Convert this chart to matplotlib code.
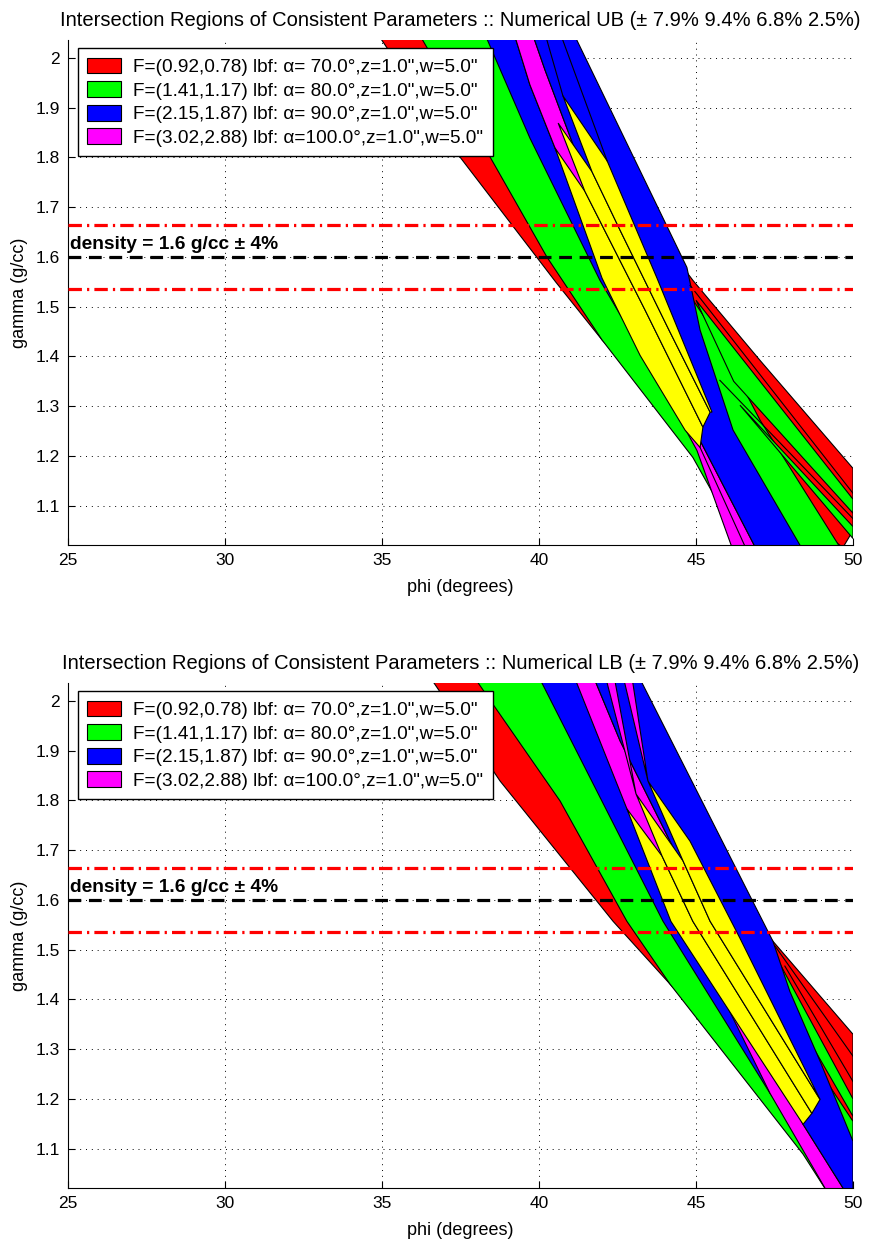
import matplotlib
matplotlib.use('Agg')
import matplotlib.pyplot as plt
from matplotlib.patches import Polygon, Patch

plt.rcParams['font.family'] = ['Liberation Sans', 'DejaVu Sans']

# ---------------- data (phi in degrees, gamma in g/cc) ----------------
phi_ticks = [25, 30, 35, 40, 45, 50]
gamma_ticks = [1.1, 1.2, 1.3, 1.4, 1.5, 1.6, 1.7, 1.8, 1.9, 2.0]
gamma_tick_labels = ['1.1', '1.2', '1.3', '1.4', '1.5', '1.6', '1.7', '1.8', '1.9', '2']
phi_lim = (25, 50)
gamma_lim = (1.021, 2.036)

density = 1.6
density_tol = 0.04

legend_labels = [
    'F=(0.92,0.78) lbf: \u03b1= 70.0\u00b0,z=1.0",w=5.0"',
    'F=(1.41,1.17) lbf: \u03b1= 80.0\u00b0,z=1.0",w=5.0"',
    'F=(2.15,1.87) lbf: \u03b1= 90.0\u00b0,z=1.0",w=5.0"',
    'F=(3.02,2.88) lbf: \u03b1=100.0\u00b0,z=1.0",w=5.0"',
]
band_colors = ['#ff0000', '#00ff00', '#0000ff', '#ff00ff']
overlap_color = '#ffff00'

titles = [
    'Intersection Regions of Consistent Parameters :: Numerical UB (\u00b1 7.9% 9.4% 6.8% 2.5%)',
    'Intersection Regions of Consistent Parameters :: Numerical LB (\u00b1 7.9% 9.4% 6.8% 2.5%)',
]

# ---- upper bound panel: region outlines (phi, gamma) ----
UB_RED = [(34.78, 2.056), (37.48, 1.801), (40.54, 1.549), (42.01, 1.433), (45.13, 1.231),
          (49.68, 1.016), (50.00, 1.050), (50.00, 1.175), (47.04, 1.392), (44.90, 1.553),
          (43.22, 1.694), (40.67, 2.056)]
UB_GREEN = [(36.11, 2.056), (38.44, 1.801), (40.25, 1.600), (42.01, 1.433), (44.90, 1.197),
            (46.56, 1.010), (49.65, 1.010), (47.04, 1.272), (45.54, 1.453), (44.49, 1.553),
            (41.94, 1.815), (40.03, 2.056)]
UB_GREEN_FAN_A = [(45.00, 1.513), (50.00, 1.113), (50.00, 1.085), (46.20, 1.350)]
UB_GREEN_FAN_B = [(46.40, 1.302), (50.00, 1.058), (50.00, 1.034)]
UB_BLUE_A = [(38.22, 2.056), (39.71, 1.839), (41.94, 1.553), (43.76, 1.358), (41.94, 1.614),
             (40.51, 1.819), (39.71, 1.946), (39.17, 2.056)]
UB_MAGENTA = [(39.17, 2.056), (39.71, 1.946), (40.51, 1.819), (41.94, 1.614), (43.76, 1.358),
              (45.03, 1.211), (46.18, 1.010), (46.94, 1.010), (45.13, 1.231), (44.49, 1.312),
              (43.22, 1.533), (41.94, 1.694), (41.15, 1.815), (40.19, 1.976), (39.75, 2.056)]
UB_BLUE_B = [(39.75, 2.056), (40.19, 1.976), (41.15, 1.815), (41.94, 1.694), (43.22, 1.533),
             (44.49, 1.312), (45.13, 1.231), (46.94, 1.010), (48.41, 1.010), (46.18, 1.252),
             (45.13, 1.453), (44.71, 1.579), (41.05, 2.056)]
UB_YELLOW_C = [(40.51, 1.819), (41.46, 1.732), (43.38, 1.493), (45.22, 1.258), (45.13, 1.217),
               (44.65, 1.252), (43.22, 1.402), (42.01, 1.557)]
UB_YELLOW_B = [(40.61, 1.869), (41.69, 1.771), (42.58, 1.654), (44.14, 1.453), (45.45, 1.288),
               (45.22, 1.258), (43.38, 1.493), (41.46, 1.732)]
UB_YELLOW_A = [(40.76, 1.924), (42.17, 1.793), (43.76, 1.557), (45.51, 1.288), (45.45, 1.288),
               (44.14, 1.453), (42.58, 1.654), (41.69, 1.771)]
UB_EDGES = [
    [(40.16, 2.056), (40.76, 1.924)],
    [(40.64, 2.056), (42.17, 1.793)],
    [(44.81, 1.543), (50.00, 1.125)],
    [(45.76, 1.352), (50.00, 1.074)],
    [(45.13, 1.217), (46.62, 1.010)],
]

# ---- lower bound panel ----
LB_RED = [(36.40, 2.060), (38.76, 1.839), (42.36, 1.557), (44.17, 1.431), (47.04, 1.235),
          (49.75, 1.014), (50.00, 1.014), (50.00, 1.330), (47.45, 1.517), (45.13, 1.698),
          (42.26, 2.060)]
LB_GREEN = [(37.80, 2.060), (40.67, 1.799), (42.80, 1.557), (44.17, 1.431), (48.41, 1.089),
            (49.27, 1.004), (50.00, 1.004), (50.00, 1.155), (48.31, 1.316), (47.04, 1.517),
            (45.13, 1.718), (42.58, 2.060)]
LB_GREEN_FAN_A = [(47.60, 1.480), (50.00, 1.200), (50.00, 1.165), (48.40, 1.340)]
LB_BLUE_A = [(39.90, 2.060), (43.95, 1.557), (47.36, 1.211), (48.31, 1.135), (45.13, 1.598),
             (41.94, 2.060)]
LB_MAGENTA = [(41.05, 2.060), (42.80, 1.783), (45.13, 1.497), (47.36, 1.211), (49.17, 1.014),
              (49.75, 1.014), (48.41, 1.149), (46.40, 1.437), (44.49, 1.678), (42.58, 1.920),
              (41.66, 2.060)]
LB_BLUE_B = [(41.66, 2.060), (42.58, 1.920), (44.49, 1.678), (46.40, 1.437), (48.41, 1.149),
             (49.75, 1.014), (50.00, 1.014), (50.00, 1.115), (48.95, 1.276), (47.99, 1.416),
             (47.45, 1.517), (43.09, 2.060)]
LB_MAGENTA_WEDGE_A = [(42.07, 2.060), (42.36, 2.060), (43.09, 1.813)]
LB_MAGENTA_WEDGE_B = [(42.64, 2.060), (42.93, 2.060), (43.47, 1.839)]
LB_YELLOW_C = [(42.80, 1.783), (43.92, 1.688), (44.90, 1.557), (48.69, 1.171), (48.41, 1.149),
               (44.20, 1.557)]
LB_YELLOW_B = [(43.09, 1.813), (44.59, 1.678), (45.45, 1.557), (48.95, 1.199), (48.69, 1.171),
               (44.90, 1.557), (43.92, 1.688)]
LB_YELLOW_A = [(43.47, 1.839), (44.81, 1.718), (46.40, 1.523), (48.95, 1.199), (45.45, 1.557),
               (44.59, 1.678)]
LB_EDGES = [
    [(47.52, 1.507), (50.00, 1.286)],
    [(47.83, 1.467), (50.00, 1.235)],
]

R, G, B, M = band_colors
Y = overlap_color
ub_layers = [(UB_RED, R), (UB_GREEN, G), (UB_GREEN_FAN_A, G), (UB_GREEN_FAN_B, G),
             (UB_BLUE_A, B), (UB_MAGENTA, M), (UB_BLUE_B, B),
             (UB_YELLOW_C, Y), (UB_YELLOW_B, Y), (UB_YELLOW_A, Y)]
lb_layers = [(LB_RED, R), (LB_GREEN, G), (LB_GREEN_FAN_A, G),
             (LB_BLUE_A, B), (LB_MAGENTA, M), (LB_BLUE_B, B),
             (LB_MAGENTA_WEDGE_A, M), (LB_MAGENTA_WEDGE_B, M),
             (LB_YELLOW_C, Y), (LB_YELLOW_B, Y), (LB_YELLOW_A, Y)]


def draw_panel(ax, layers, edges, title):
    for verts, col in layers:
        ax.add_patch(Polygon(verts, closed=True, facecolor=col, edgecolor='k', lw=0.8))
    for ln in edges:
        xs, ys = zip(*ln)
        ax.plot(xs, ys, color='k', lw=0.8)

    ax.axhline(density * (1 + density_tol), color='#ff0000', lw=2.3, dashes=(4.2, 1.6, 0.7, 1.6), zorder=4)
    ax.axhline(density * (1 - density_tol), color='#ff0000', lw=2.3, dashes=(4.2, 1.6, 0.7, 1.6), zorder=4)
    ax.axhline(density, color='k', lw=2.3, dashes=(4.0, 2.4), zorder=4)
    ax.text(25.05, density + 0.007, 'density = 1.6 g/cc \u00b1 4%', fontsize=13.8,
            fontweight='bold', ha='left', va='bottom', zorder=5)

    ax.set_xlim(*phi_lim)
    ax.set_ylim(*gamma_lim)
    ax.set_xticks(phi_ticks)
    ax.set_yticks(gamma_ticks)
    ax.set_yticklabels(gamma_tick_labels)
    ax.tick_params(direction='in', length=5, width=0.8, labelsize=12.5, pad=6)
    ax.spines['top'].set_visible(False)
    ax.spines['right'].set_visible(False)
    ax.set_axisbelow(True)
    ax.grid(True, color='k', lw=0.7, linestyle=(0, (1, 5)))
    ax.set_xlabel('phi (degrees)', fontsize=13, labelpad=8)
    ax.set_ylabel('gamma (g/cc)', fontsize=13, labelpad=5)
    ax.set_title(title, fontsize=14.5, pad=10)

    handles = [Patch(facecolor=c, edgecolor='k', lw=0.8) for c in band_colors]
    leg = ax.legend(handles, legend_labels, loc='upper left', bbox_to_anchor=(0.0127, 0.984),
                    borderaxespad=0, fontsize=13.7, fancybox=False, framealpha=1,
                    handlelength=1.76, handleheight=0.9, handletextpad=0.64,
                    labelspacing=0.27, borderpad=0.5)
    leg.get_frame().set_edgecolor('k')
    leg.get_frame().set_linewidth(1.0)
    leg.set_zorder(10)


fig = plt.figure(figsize=(8.69, 12.42), dpi=100)
ax1 = fig.add_axes([68 / 869, 1 - 545 / 1242, 785 / 869, 505 / 1242])
ax2 = fig.add_axes([68 / 869, 1 - 1188 / 1242, 785 / 869, 505 / 1242])

draw_panel(ax1, ub_layers, UB_EDGES, titles[0])
draw_panel(ax2, lb_layers, LB_EDGES, titles[1])

fig.savefig('out.png', dpi=100)
